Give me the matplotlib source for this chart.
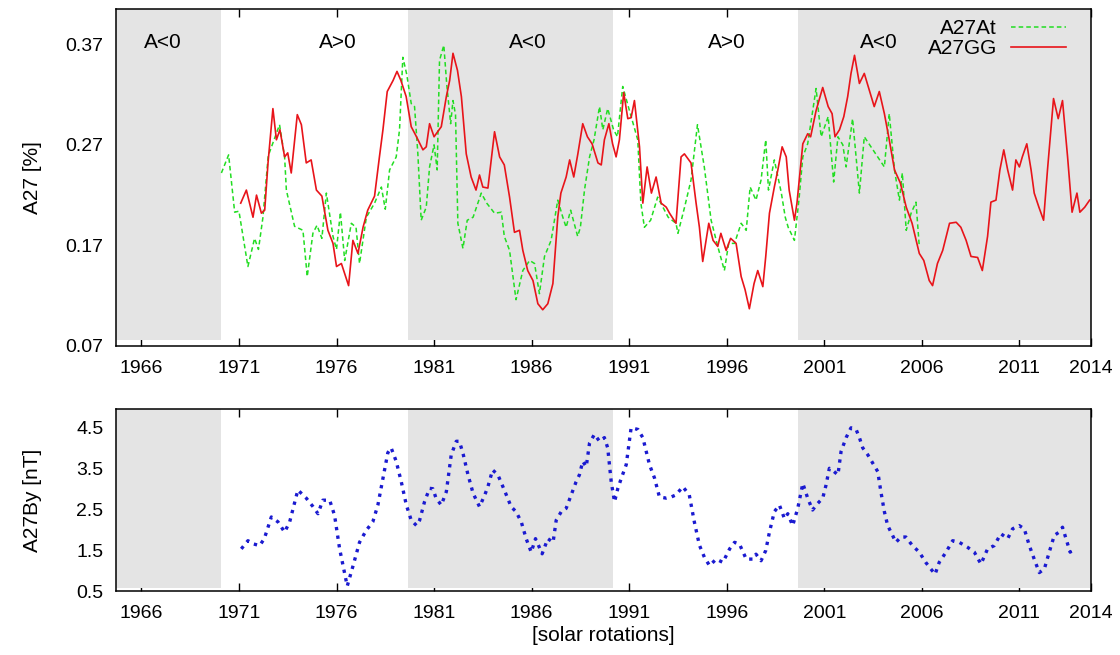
import matplotlib
matplotlib.use("Agg")
import matplotlib.pyplot as plt
from matplotlib.transforms import blended_transform_factory

plt.rcParams["font.family"] = ["Liberation Sans", "DejaVu Sans"]
plt.rcParams["font.size"] = 15
plt.rcParams["xtick.labelsize"] = 14
plt.rcParams["ytick.labelsize"] = 14

# x axis in decimal years (ticks labelled like the solar-rotation axis)
X_MIN, X_MAX = 1964.7, 2014.67
tick_years = [1966, 1971, 1976, 1981, 1986, 1991, 1996, 2001, 2006, 2011, X_MAX]
tick_labels = ["1966", "1971", "1976", "1981", "1986", "1991", "1996",
               "2001", "2006", "2011", "2014"]

# A<0 polarity epochs (shaded)
neg_start = [1964.7, 1979.66, 1999.64]
neg_end = [1970.1, 1990.16, 2014.67]
epoch_x = [1967.1, 1976.05, 1985.8, 1996.0, 2003.8]
epoch_txt = ["A<0", "A>0", "A<0", "A>0", "A<0"]

# A27At (green dashed)
at_t = [1970.10, 1970.47, 1970.78, 1971.00, 1971.46, 1971.80, 1972.00, 1972.23,
        1972.50, 1973.08, 1973.34, 1973.43, 1973.85, 1974.28, 1974.50, 1974.79,
        1975.00, 1975.25, 1975.48, 1975.82, 1976.00, 1976.20, 1976.42, 1976.76,
        1977.00, 1977.18, 1977.53, 1977.95, 1978.30, 1978.50, 1978.72, 1979.06,
        1979.23, 1979.40, 1979.60, 1979.83, 1980.00, 1980.17, 1980.34, 1980.60,
        1980.77, 1981.00, 1981.16, 1981.28, 1981.50, 1981.65, 1981.85, 1981.97,
        1982.10, 1982.22, 1982.48, 1982.70, 1983.00, 1983.42, 1983.70, 1984.10,
        1984.45, 1984.60, 1984.87, 1985.20, 1985.55, 1985.90, 1986.15, 1986.40,
        1986.66, 1987.00, 1987.34, 1987.60, 1987.77, 1988.00, 1988.36, 1988.50,
        1988.71, 1988.97, 1989.20, 1989.48, 1989.65, 1989.90, 1990.20, 1990.40,
        1990.67, 1991.00, 1991.44, 1991.60, 1991.78, 1992.10, 1992.46, 1993.00,
        1993.40, 1993.50, 1993.84, 1994.17, 1994.50, 1994.85, 1995.20, 1995.54,
        1995.88, 1996.10, 1996.40, 1996.74, 1997.00, 1997.20, 1997.50, 1997.76,
        1998.00, 1998.14, 1998.44, 1998.80, 1999.00, 1999.15, 1999.47, 1999.70,
        1999.90, 2000.15, 2000.58, 2000.84, 2001.20, 2001.48, 2001.70, 2001.95,
        2002.12, 2002.45, 2002.80, 2003.05, 2004.08, 2004.33, 2004.60, 2004.85,
        2005.00, 2005.20, 2005.45, 2005.70, 2005.87]
at_v = [0.242, 0.260, 0.203, 0.204, 0.149, 0.177, 0.166, 0.198,
        0.259, 0.290, 0.258, 0.225, 0.189, 0.185, 0.139, 0.182,
        0.190, 0.177, 0.222, 0.179, 0.166, 0.203, 0.155, 0.192,
        0.188, 0.152, 0.198, 0.212, 0.228, 0.206, 0.245, 0.258,
        0.285, 0.357, 0.340, 0.311, 0.308, 0.261, 0.195, 0.208,
        0.248, 0.270, 0.245, 0.354, 0.369, 0.330, 0.291, 0.314,
        0.300, 0.192, 0.167, 0.195, 0.198, 0.222, 0.212, 0.202,
        0.203, 0.179, 0.165, 0.116, 0.145, 0.155, 0.152, 0.122,
        0.159, 0.175, 0.215, 0.198, 0.188, 0.205, 0.179, 0.188,
        0.225, 0.258, 0.275, 0.308, 0.285, 0.306, 0.285, 0.278,
        0.328, 0.305, 0.275, 0.212, 0.188, 0.195, 0.218, 0.198,
        0.192, 0.182, 0.208, 0.235, 0.290, 0.248, 0.195, 0.169,
        0.145, 0.172, 0.172, 0.192, 0.185, 0.228, 0.215, 0.235,
        0.275, 0.225, 0.255, 0.222, 0.198, 0.188, 0.175, 0.215,
        0.258, 0.271, 0.326, 0.278, 0.298, 0.233, 0.278, 0.270,
        0.248, 0.296, 0.222, 0.278, 0.248, 0.301, 0.245, 0.215,
        0.242, 0.185, 0.202, 0.213, 0.169]

# A27GG (red solid)
gg_t = [1971.09, 1971.38, 1971.72, 1971.90, 1972.15, 1972.32, 1972.49, 1972.74,
        1972.92, 1973.10, 1973.34, 1973.50, 1973.68, 1973.99, 1974.20, 1974.45,
        1974.70, 1974.97, 1975.25, 1975.56, 1975.82, 1976.00, 1976.25, 1976.42,
        1976.62, 1976.84, 1977.10, 1977.36, 1977.60, 1977.95, 1978.20, 1978.38,
        1978.60, 1978.90, 1979.10, 1979.30, 1979.57, 1979.83, 1980.10, 1980.43,
        1980.60, 1980.77, 1981.00, 1981.37, 1981.63, 1981.80, 1981.97, 1982.20,
        1982.40, 1982.65, 1982.90, 1983.15, 1983.33, 1983.50, 1983.76, 1984.10,
        1984.36, 1984.60, 1984.87, 1985.12, 1985.38, 1985.55, 1985.80, 1986.07,
        1986.32, 1986.57, 1986.83, 1987.09, 1987.34, 1987.50, 1987.77, 1987.95,
        1988.16, 1988.37, 1988.62, 1988.86, 1989.10, 1989.40, 1989.57, 1989.73,
        1989.96, 1990.15, 1990.33, 1990.50, 1990.72, 1990.93, 1991.10, 1991.27,
        1991.53, 1991.70, 1991.92, 1992.14, 1992.38, 1992.64, 1992.90, 1993.07,
        1993.40, 1993.66, 1993.83, 1994.17, 1994.43, 1994.60, 1994.77, 1995.08,
        1995.30, 1995.54, 1995.70, 1995.97, 1996.20, 1996.48, 1996.74, 1996.94,
        1997.16, 1997.40, 1997.59, 1997.85, 1998.00, 1998.19, 1998.44, 1998.62,
        1998.84, 1999.05, 1999.20, 1999.47, 1999.60, 1999.90, 2000.15, 2000.30,
        2000.58, 2000.92, 2001.20, 2001.40, 2001.55, 2001.78, 2002.00, 2002.20,
        2002.37, 2002.55, 2002.80, 2003.05, 2003.25, 2003.56, 2003.82, 2004.08,
        2004.33, 2004.60, 2004.90, 2005.20, 2005.50, 2005.87, 2006.10, 2006.38,
        2006.55, 2006.80, 2007.07, 2007.42, 2007.76, 2008.00, 2008.27, 2008.52,
        2008.86, 2009.10, 2009.37, 2009.54, 2009.80, 2010.00, 2010.20, 2010.40,
        2010.65, 2010.82, 2011.00, 2011.15, 2011.38, 2011.60, 2011.76, 2012.00,
        2012.24, 2012.44, 2012.75, 2012.99, 2013.21, 2013.47, 2013.70, 2013.95,
        2014.10, 2014.35, 2014.60]
gg_v = [0.212, 0.225, 0.198, 0.220, 0.202, 0.205, 0.252, 0.306,
        0.275, 0.285, 0.258, 0.262, 0.242, 0.300, 0.290, 0.252,
        0.255, 0.225, 0.219, 0.185, 0.172, 0.149, 0.152, 0.142,
        0.130, 0.175, 0.162, 0.188, 0.205, 0.219, 0.258, 0.285,
        0.323, 0.334, 0.343, 0.334, 0.318, 0.288, 0.278, 0.265,
        0.268, 0.291, 0.278, 0.288, 0.318, 0.334, 0.361, 0.344,
        0.318, 0.261, 0.238, 0.225, 0.240, 0.228, 0.227, 0.283,
        0.258, 0.250, 0.218, 0.183, 0.185, 0.165, 0.145, 0.135,
        0.112, 0.106, 0.112, 0.132, 0.198, 0.222, 0.238, 0.255,
        0.238, 0.261, 0.291, 0.278, 0.271, 0.252, 0.250, 0.275,
        0.291, 0.271, 0.258, 0.275, 0.322, 0.296, 0.297, 0.314,
        0.268, 0.212, 0.248, 0.222, 0.238, 0.212, 0.208, 0.202,
        0.192, 0.258, 0.261, 0.252, 0.212, 0.188, 0.154, 0.192,
        0.175, 0.169, 0.182, 0.165, 0.177, 0.172, 0.139, 0.126,
        0.107, 0.132, 0.145, 0.129, 0.159, 0.202, 0.228, 0.245,
        0.268, 0.258, 0.225, 0.195, 0.212, 0.271, 0.281, 0.278,
        0.304, 0.327, 0.308, 0.301, 0.278, 0.285, 0.298, 0.318,
        0.341, 0.359, 0.331, 0.341, 0.328, 0.308, 0.323, 0.301,
        0.275, 0.245, 0.232, 0.208, 0.192, 0.162, 0.155, 0.135,
        0.130, 0.152, 0.165, 0.192, 0.193, 0.188, 0.175, 0.159,
        0.158, 0.145, 0.179, 0.213, 0.215, 0.245, 0.265, 0.245,
        0.225, 0.255, 0.248, 0.258, 0.271, 0.245, 0.222, 0.208,
        0.195, 0.245, 0.316, 0.296, 0.314, 0.258, 0.203, 0.222,
        0.203, 0.208, 0.215]

# A27By (blue dotted), nT
by_t = [1971.12, 1971.46, 1971.75, 1972.06, 1972.30, 1972.66, 1973.00, 1973.34,
        1973.60, 1974.02, 1974.45, 1974.80, 1975.05, 1975.30, 1975.65, 1975.90,
        1976.16, 1976.37, 1976.55, 1976.85, 1977.18, 1977.52, 1977.86, 1978.12,
        1978.38, 1978.63, 1978.80, 1979.06, 1979.32, 1979.58, 1979.83, 1980.10,
        1980.26, 1980.51, 1980.77, 1980.94, 1981.10, 1981.37, 1981.63, 1981.88,
        1982.14, 1982.30, 1982.50, 1982.74, 1983.00, 1983.33, 1983.60, 1983.76,
        1984.00, 1984.27, 1984.60, 1984.95, 1985.20, 1985.47, 1985.72, 1985.98,
        1986.20, 1986.54, 1986.83, 1987.10, 1987.26, 1987.52, 1987.77, 1988.03,
        1988.28, 1988.45, 1988.62, 1988.80, 1988.97, 1989.22, 1989.48, 1989.73,
        1989.90, 1990.08, 1990.25, 1990.42, 1990.60, 1990.85, 1991.10, 1991.45,
        1991.70, 1992.04, 1992.30, 1992.55, 1992.90, 1993.16, 1993.40, 1993.75,
        1994.08, 1994.34, 1994.60, 1994.86, 1995.12, 1995.46, 1995.80, 1996.15,
        1996.40, 1996.65, 1997.00, 1997.34, 1997.50, 1997.76, 1998.00, 1998.19,
        1998.44, 1998.70, 1998.96, 1999.13, 1999.38, 1999.64, 1999.90, 2000.15,
        2000.40, 2000.66, 2000.92, 2001.09, 2001.26, 2001.50, 2001.70, 2001.86,
        2002.12, 2002.37, 2002.63, 2002.80, 2002.97, 2003.23, 2003.48, 2003.74,
        2003.90, 2004.08, 2004.25, 2004.50, 2004.67, 2004.93, 2005.18, 2005.52,
        2005.87, 2006.20, 2006.46, 2006.68, 2006.89, 2007.24, 2007.58, 2007.92,
        2008.34, 2008.69, 2009.03, 2009.37, 2009.71, 2010.05, 2010.40, 2010.65,
        2010.99, 2011.25, 2011.51, 2011.76, 2012.02, 2012.28, 2012.53, 2012.79,
        2013.04, 2013.21, 2013.39, 2013.60, 2013.77]
by_v = [1.53, 1.73, 1.65, 1.61, 1.78, 2.31, 2.19, 1.94,
        2.19, 2.97, 2.77, 2.56, 2.39, 2.72, 2.72, 2.35,
        1.53, 1.04, 0.62, 1.12, 1.69, 1.98, 2.19, 2.60,
        3.26, 3.88, 4.00, 3.67, 3.17, 2.60, 2.23, 2.10,
        2.23, 2.68, 3.01, 3.00, 2.77, 2.60, 2.93, 3.83,
        4.16, 4.16, 3.83, 3.34, 2.89, 2.56, 2.85, 3.05,
        3.46, 3.34, 2.97, 2.56, 2.44, 2.19, 1.78, 1.45,
        1.78, 1.41, 1.78, 1.69, 2.23, 2.44, 2.52, 2.85,
        3.17, 3.34, 3.67, 3.54, 4.12, 4.33, 4.16, 4.25,
        4.00, 3.17, 2.68, 3.01, 3.26, 3.59, 4.49, 4.45,
        4.25, 3.59, 3.26, 2.80, 2.77, 2.80, 2.85, 3.05,
        2.85, 2.19, 1.62, 1.32, 1.12, 1.28, 1.20, 1.53,
        1.69, 1.65, 1.28, 1.28, 1.40, 1.24, 1.49, 1.94,
        2.44, 2.60, 2.27, 2.39, 2.10, 2.52, 3.13, 2.77,
        2.48, 2.64, 2.77, 3.09, 3.50, 3.42, 3.34, 3.91,
        4.25, 4.49, 4.45, 4.25, 4.00, 3.83, 3.63, 3.42,
        2.93, 2.44, 2.10, 1.86, 1.69, 1.82, 1.82, 1.61,
        1.45, 1.20, 1.04, 0.91, 1.20, 1.45, 1.73, 1.69,
        1.57, 1.45, 1.16, 1.53, 1.61, 1.90, 1.78, 2.02,
        2.10, 2.02, 1.61, 1.28, 0.95, 1.04, 1.45, 1.86,
        1.94, 2.06, 1.78, 1.45, 1.51]

GRAY = "#e4e4e4"


def style_axis(ax):
    ax.set_xlim(X_MIN, X_MAX)
    ax.set_xticks(tick_years)
    ax.set_xticklabels(tick_labels)
    ax.tick_params(direction="in", length=6, width=1, top=True, right=False,
                   left=False, color="black")
    ax.tick_params(axis="x", pad=10)
    ax.tick_params(axis="y", pad=9)
    for s in ax.spines.values():
        s.set_zorder(6)
        s.set_linewidth(1.1)
    # shaded A<0 epochs sit over the top ticks but stop short of the bottom ones
    for a, b in zip(neg_start, neg_end):
        ax.axvspan(a, b, ymin=0.018, ymax=1.0, color=GRAY, lw=0, zorder=3)


fig = plt.figure(figsize=(11.2, 6.55), dpi=100)
ax1 = fig.add_axes([0.1036, 0.4718, 0.8705, 0.5144])
ax2 = fig.add_axes([0.1036, 0.0977, 0.8705, 0.2779])

# top panel
style_axis(ax1)
ax1.set_ylim(0.07, 0.405)
ax1.set_yticks([0.07, 0.17, 0.27, 0.37])
ax1.set_yticklabels(["0.07", "0.17", "0.27", "0.37"])
ax1.plot(at_t, at_v, color="#22dd22", lw=1.1, ls=(0, (3, 2)), zorder=4,
         label="A27At")
ax1.plot(gg_t, gg_v, color="#e8141a", lw=1.2, zorder=5, label="A27GG")
ax1.set_ylabel("A27 [%]")
ax1.yaxis.set_label_coords(-0.076, 0.5)
tr = blended_transform_factory(ax1.transData, ax1.transAxes)
for x, s in zip(epoch_x, epoch_txt):
    ax1.text(x, 0.90, s, transform=tr, ha="center", va="center", zorder=7)
leg = ax1.legend(loc="upper right", bbox_to_anchor=(1 - 23 / 975, 1 - 8 / 337),
                 markerfirst=False, frameon=False,
                 handlelength=2.65, handletextpad=0.65, labelspacing=0.05,
                 borderaxespad=0.0, borderpad=0.1, fontsize=15)
leg.set_zorder(8)
for t in leg.get_texts():
    t.set_ha("right")

# bottom panel
style_axis(ax2)
ax2.set_ylim(0.5, 4.95)
ax2.set_yticks([0.5, 1.5, 2.5, 3.5, 4.5])
ax2.set_yticklabels(["0.5", "1.5", "2.5", "3.5", "4.5"])
ax2.plot(by_t, by_v, color="#1a1ad0", lw=2.4, ls=(0, (1, 1.6)), zorder=4)
ax2.set_ylabel("A27By [nT]")
ax2.yaxis.set_label_coords(-0.076, 0.5)
ax2.set_xlabel("[solar rotations]", labelpad=3)

fig.savefig("out.png", dpi=100)
